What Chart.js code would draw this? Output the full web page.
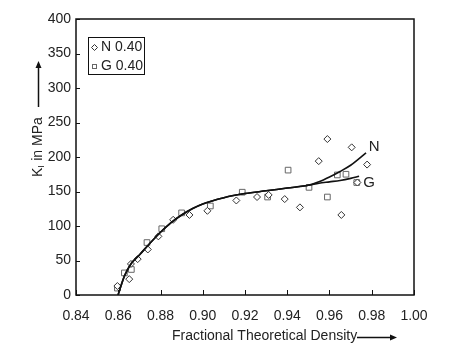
<!DOCTYPE html>
<html>
<head>
  <title>K vs Fractional Density</title>
  <script src="https://cdn.jsdelivr.net/npm/chart.js"></script>
  <style>
    html, body { margin: 0; padding: 0; background: #fff; }
    #wrap { width: 450px; height: 347px; }
  </style>
</head>
<body>
  <div id="wrap"><canvas id="chart" width="450" height="347"></canvas></div>
<script>
  // measured points, N 0.40
  const nDensity = [0.8596, 0.8652, 0.8660, 0.8692, 0.8740, 0.8790, 0.8860, 0.8937, 0.9022, 0.9159,
    0.9257, 0.9312, 0.9388, 0.9460, 0.9549, 0.9590, 0.9656, 0.9705, 0.9732, 0.9778];
  const nStrength = [13, 23, 45, 52, 66, 85, 109, 116, 122, 137,
    142, 145, 139, 127, 194, 226, 116, 214, 163, 189];

  // measured points, G 0.40
  const gDensity = [0.8596, 0.8629, 0.8662, 0.8736, 0.8806, 0.8900, 0.9036, 0.9187, 0.9307, 0.9404,
    0.9503, 0.9590, 0.9637, 0.9678, 0.9729];
  const gStrength = [10, 32, 37, 76, 96, 119, 129, 149, 142, 181,
    156, 142, 174, 175, 163];

  // fitted trend lines
  const nFitX = [0.8599, 0.863, 0.866, 0.870, 0.875, 0.880, 0.885, 0.890, 0.895, 0.900, 0.910,
    0.920, 0.930, 0.940, 0.950, 0.955, 0.960, 0.965, 0.970, 0.9773];
  const nFitY = [0, 28, 45, 58, 75, 91, 105, 116, 125, 132, 141,
    147, 151, 155, 159, 164, 171, 179, 188, 206];
  const gFitX = [0.8599, 0.863, 0.866, 0.870, 0.875, 0.880, 0.885, 0.890, 0.895, 0.900, 0.910,
    0.920, 0.930, 0.940, 0.950, 0.955, 0.960, 0.965, 0.970, 0.974];
  const gFitY = [0, 28, 45, 58, 75, 91, 105, 116, 125, 132, 141,
    147, 151, 155, 159, 162, 164, 166, 169, 172];

  const xTicks = [0.84, 0.86, 0.88, 0.90, 0.92, 0.94, 0.96, 0.98, 1.00];
  const yTicks = [0, 50, 100, 150, 200, 250, 300, 350, 400];

  const FONT = 'Liberation Sans, Arial, sans-serif';
  const INK = '#222';

  const pts = (xs, ys) => xs.map((x, i) => ({ x: x, y: ys[i] }));

  // frame, inward ticks, legend, titles and curve labels
  const decorations = {
    id: 'decorations',
    afterDraw(chart) {
      const ctx = chart.ctx;
      const a = chart.chartArea;
      const xs = chart.scales.x, ys = chart.scales.y;
      ctx.save();
      ctx.strokeStyle = '#111';
      ctx.lineWidth = 1.5;
      ctx.strokeRect(a.left, a.top, a.right - a.left, a.bottom - a.top);

      ctx.lineWidth = 1;
      ctx.beginPath();
      xTicks.forEach(v => {
        const px = Math.round(xs.getPixelForValue(v)) + 0.5;
        ctx.moveTo(px, a.bottom);
        ctx.lineTo(px, a.bottom - 5);
      });
      yTicks.forEach(v => {
        const py = Math.round(ys.getPixelForValue(v)) + 0.5;
        ctx.moveTo(a.left, py);
        ctx.lineTo(a.left + 4, py);
      });
      ctx.stroke();

      // legend box
      ctx.lineWidth = 1;
      ctx.strokeRect(88.5, 37.5, 56, 37);
      ctx.fillStyle = INK;
      ctx.font = '14px ' + FONT;
      ctx.textBaseline = 'middle';
      ctx.textAlign = 'left';
      ctx.fillText(chart.data.datasets[0].label, 101, 47.5);
      ctx.fillText(chart.data.datasets[1].label, 101, 66.5);
      ctx.strokeStyle = '#333';
      ctx.beginPath();
      ctx.moveTo(94.5, 44.5); ctx.lineTo(97.5, 47.5); ctx.lineTo(94.5, 50.5); ctx.lineTo(91.5, 47.5);
      ctx.closePath();
      ctx.stroke();
      ctx.strokeStyle = '#666';
      ctx.strokeRect(92.5, 64.5, 4, 4);

      // curve labels
      ctx.fillStyle = INK;
      ctx.font = '15px ' + FONT;
      ctx.textAlign = 'left';
      ctx.fillText('N', xs.getPixelForValue(0.9786), ys.getPixelForValue(214));
      ctx.fillText('G', xs.getPixelForValue(0.9760), ys.getPixelForValue(163));

      // x title with arrow
      ctx.font = '14px ' + FONT;
      ctx.textAlign = 'left';
      ctx.fillText('Fractional Theoretical Density', 172, 336);
      ctx.strokeStyle = '#111';
      ctx.lineWidth = 1.5;
      ctx.beginPath();
      ctx.moveTo(357, 337.5); ctx.lineTo(393, 337.5);
      ctx.stroke();
      ctx.fillStyle = '#111';
      ctx.beginPath();
      ctx.moveTo(397, 337.5); ctx.lineTo(390, 334.5); ctx.lineTo(390, 340.5);
      ctx.closePath();
      ctx.fill();

      // y title with arrow
      ctx.save();
      ctx.translate(38, 177);
      ctx.rotate(-Math.PI / 2);
      ctx.fillStyle = INK;
      ctx.textAlign = 'left';
      ctx.font = '14px ' + FONT;
      ctx.fillText('K', 0, 0);
      let w = ctx.measureText('K').width;
      ctx.font = '9px ' + FONT;
      ctx.fillText('I', w, 4);
      w += ctx.measureText('I').width + 0.5;
      ctx.font = '14px ' + FONT;
      ctx.fillText(' in MPa', w, 0);
      ctx.restore();
      ctx.strokeStyle = '#111';
      ctx.beginPath();
      ctx.moveTo(38.5, 107); ctx.lineTo(38.5, 66);
      ctx.stroke();
      ctx.fillStyle = '#111';
      ctx.beginPath();
      ctx.moveTo(38.5, 61); ctx.lineTo(35.5, 68); ctx.lineTo(41.5, 68);
      ctx.closePath();
      ctx.fill();
      ctx.restore();
    }
  };

  new Chart(document.getElementById('chart'), {
    type: 'scatter',
    data: {
      datasets: [
        {
          label: 'N 0.40',
          data: pts(nDensity, nStrength),
          pointStyle: 'rectRot',
          pointRadius: 3.5,
          borderColor: '#333',
          backgroundColor: '#fff',
          borderWidth: 1,
          order: 2
        },
        {
          label: 'G 0.40',
          data: pts(gDensity, gStrength),
          pointStyle: 'rect',
          pointRadius: 4,
          borderColor: '#666',
          backgroundColor: '#fff',
          borderWidth: 1,
          order: 3
        },
        {
          label: 'N',
          data: pts(nFitX, nFitY),
          showLine: true,
          pointRadius: 0,
          borderColor: '#111',
          borderWidth: 1.6,
          cubicInterpolationMode: 'monotone',
          order: 1
        },
        {
          label: 'G',
          data: pts(gFitX, gFitY),
          showLine: true,
          pointRadius: 0,
          borderColor: '#111',
          borderWidth: 1.6,
          cubicInterpolationMode: 'monotone',
          order: 1
        }
      ]
    },
    options: {
      responsive: false,
      animation: false,
      layout: { padding: { left: 0, top: 19, right: 36, bottom: 0 } },
      plugins: { legend: { display: false }, tooltip: { enabled: false } },
      scales: {
        x: {
          type: 'linear',
          min: 0.84,
          max: 1.0,
          afterBuildTicks: s => { s.ticks = xTicks.map(v => ({ value: v })); },
          afterFit: s => { s.height = 52; },
          grid: { display: false, drawTicks: false },
          border: { display: false },
          ticks: {
            color: INK,
            font: { family: FONT, size: 14 },
            padding: 13,
            maxRotation: 0,
            callback: v => v.toFixed(2)
          }
        },
        y: {
          min: 0,
          max: 400,
          afterBuildTicks: s => { s.ticks = yTicks.map(v => ({ value: v })); },
          afterFit: s => { s.width = 76; },
          grid: { display: false, drawTicks: false },
          border: { display: false },
          ticks: {
            color: INK,
            font: { family: FONT, size: 14 },
            padding: 5
          }
        }
      }
    },
    plugins: [decorations]
  });
</script>
</body>
</html>
